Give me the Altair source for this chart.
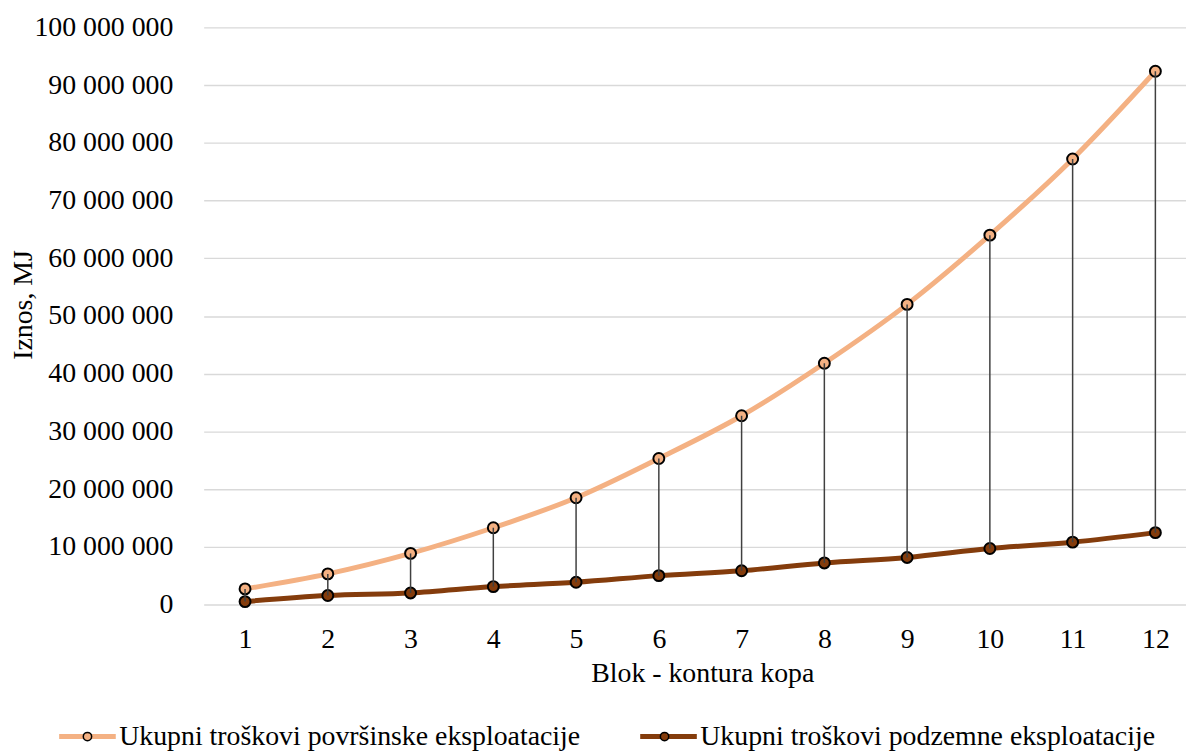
import altair as alt
import pandas as pd

# ---- data ----
blok = [1, 2, 3, 4, 5, 6, 7, 8, 9, 10, 11, 12]
povrsinska = [2_700_000, 5_300_000, 8_850_000, 13_300_000, 18_500_000, 25_300_000,
              32_700_000, 41_800_000, 52_000_000, 64_000_000, 77_200_000, 92_400_000]
podzemna = [500_000, 1_550_000, 2_000_000, 3_100_000, 3_850_000, 5_000_000,
            5_850_000, 7_200_000, 8_150_000, 9_700_000, 10_800_000, 12_450_000]
y_ticks = [0, 10_000_000, 20_000_000, 30_000_000, 40_000_000, 50_000_000,
           60_000_000, 70_000_000, 80_000_000, 90_000_000, 100_000_000]

S1 = "Ukupni troškovi površinske eksploatacije"
S2 = "Ukupni troškovi podzemne eksploatacije"
C1 = "#F4B183"
C2 = "#843C0C"
FONT = "Liberation Serif"

wide = pd.DataFrame({"blok": blok, "pov": povrsinska, "pod": podzemna})
long = pd.concat([
    pd.DataFrame({"blok": blok, "iznos": povrsinska, "serija": S1}),
    pd.DataFrame({"blok": blok, "iznos": podzemna, "serija": S2}),
], ignore_index=True)
long["serija_p"] = long["serija"]

x_enc = alt.X("blok:Q",
              scale=alt.Scale(domain=[0.5, 12.37], nice=False, zero=False),
              axis=alt.Axis(values=blok, format="d", title="Blok - kontura kopa",
                            grid=False, ticks=False, tickSize=0, domain=False,
                            labelPadding=21, labelBaseline="top", titleX=502,
                            titleY=78, titleBaseline="alphabetic", titleAlign="center"))
y_enc = alt.Y("iznos:Q",
              scale=alt.Scale(domain=[0, 100_000_000], nice=False),
              axis=alt.Axis(values=y_ticks, title="Iznos, MJ", grid=True,
                            gridColor="#D9D9D9", gridWidth=1.4, ticks=False,
                            tickSize=0, domain=False, labelPadding=31,
                            labelBaseline="middle",
                            labelExpr="replace(format(datum.value, ','), /,/g, ' ')",
                            titleX=-173, titleY=279, titleAngle=270,
                            titleBaseline="alphabetic", titleAlign="center"))

legend_common = dict(orient="none", legendX=-148, legendY=683, direction="horizontal",
                     title=None, labelFont=FONT, labelFontSize=28, labelColor="black",
                     labelLimit=0, padding=0, labelOffset=1)

lines = alt.Chart(long).mark_line(interpolate="monotone", strokeWidth=5).encode(
    x=x_enc, y=y_enc,
    color=alt.Color("serija:N", scale=alt.Scale(domain=[S1, S2], range=[C1, C2]),
                    legend=alt.Legend(symbolType="stroke", symbolStrokeWidth=5,
                                      symbolSize=3249, columnPadding=49,
                                      **legend_common)),
)

circle_path = ("M-1,0 M1,0 M0.14,0 A0.14,0.14 0 1,1 -0.14,0 "
               "A0.14,0.14 0 1,1 0.14,0 Z")
points = alt.Chart(long).mark_point(shape="circle", filled=True, size=121, stroke="black",
                                    strokeWidth=2, opacity=1).encode(
    x="blok:Q", y="iznos:Q",
    fill=alt.Fill("serija_p:N", scale=alt.Scale(domain=[S1, S2], range=[C1, C2]),
                  legend=alt.Legend(symbolType=circle_path, symbolSize=3600,
                                    symbolStrokeWidth=1.5, symbolStrokeColor="black",
                                    symbolOpacity=1, labelExpr="''", columnPadding=515,
                                    **legend_common)),
)

rules = alt.Chart(wide).mark_rule(color="#404040", strokeWidth=1.5).encode(
    x="blok:Q", y="pov:Q", y2="pod:Q")

chart = alt.layer(lines, points, rules).resolve_legend(color="independent", fill="independent").properties(
    width=989, height=581,
    autosize=alt.AutoSizeParams(type="none"),
    padding={"left": 197, "top": 17, "right": 0, "bottom": 148},
).configure_view(stroke=None).configure_axis(
    labelFont=FONT, labelFontSize=28, labelColor="black",
    titleFont=FONT, titleFontSize=28, titleColor="black", titleFontWeight="normal",
)

chart.save("out.html", embed_options={"renderer": "svg", "actions": False})
